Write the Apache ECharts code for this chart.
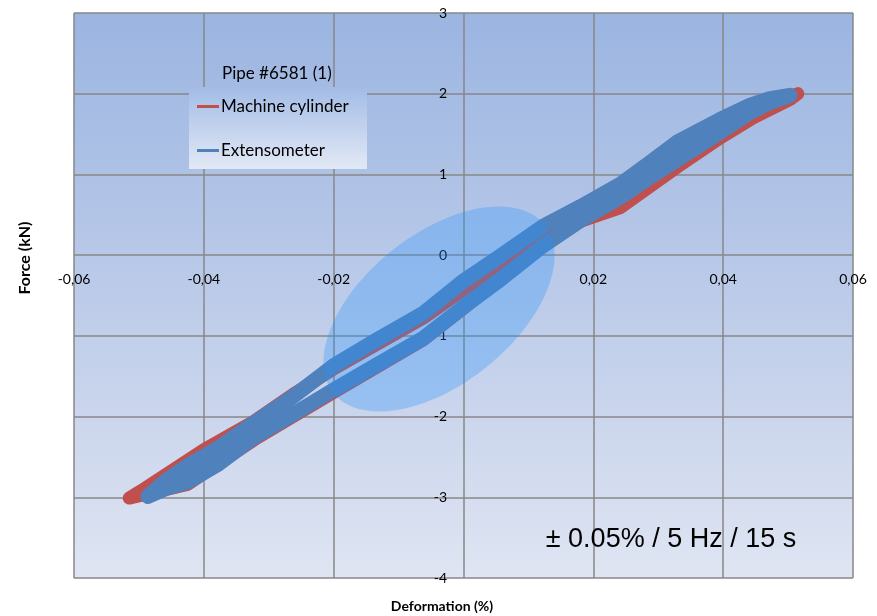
<!DOCTYPE html>
<html><head><meta charset="utf-8">
<script src="https://cdn.jsdelivr.net/npm/echarts@6/dist/echarts.min.js"></script>
<style>html,body{margin:0;padding:0;background:#fff}#c{width:877px;height:616px}</style>
</head><body><div id="c"></div>
<script>
// Axis ticks
const xTicks = [-0.06, -0.04, -0.02, 0, 0.02, 0.04, 0.06];
const yTicks = [-4, -3, -2, -1, 0, 1, 2, 3];

// Extensometer (blue) – loading branch, lower-left to upper-right
const extLoadDef = [-0.0486,-0.0458,-0.0425,-0.0378,-0.0323,-0.0262,-0.0200,-0.0138,-0.0062,0.0000,0.0057,0.0123,0.0180,0.0242,0.0288,0.0329,0.0395,0.0442,0.0472,0.0503];
const extLoadForce = [-2.99,-2.89,-2.81,-2.59,-2.26,-1.97,-1.67,-1.38,-1.03,-0.64,-0.30,0.12,0.43,0.72,0.97,1.18,1.52,1.77,1.89,1.98];
// Extensometer – unloading branch, upper-right back to lower-left
const extUnloadDef = [0.0503,0.0472,0.0442,0.0395,0.0329,0.0288,0.0242,0.0180,0.0123,0.0057,0.0000,-0.0062,-0.0138,-0.0200,-0.0262,-0.0323,-0.0378,-0.0425,-0.0458,-0.0486];
const extUnloadForce = [1.98,1.94,1.86,1.68,1.40,1.15,0.88,0.60,0.36,-0.01,-0.32,-0.72,-1.07,-1.37,-1.75,-2.08,-2.39,-2.61,-2.79,-2.99];

// Machine cylinder (red) – loading branch
const cylLoadDef = [-0.0515,-0.0425,-0.0323,-0.0200,-0.0062,0.0000,0.0123,0.0180,0.0242,0.0329,0.0395,0.0446,0.0503,0.0515];
const cylLoadForce = [-3.01,-2.84,-2.29,-1.70,-1.05,-0.66,0.12,0.42,0.59,1.09,1.45,1.70,1.93,2.00];
// Machine cylinder – unloading branch
const cylUnloadDef = [0.0515,0.0472,0.0395,0.0329,0.0242,0.0123,0.0000,-0.0062,-0.0200,-0.0262,-0.0323,-0.0400,-0.0497,-0.0515];
const cylUnloadForce = [2.00,1.87,1.60,1.30,0.78,0.26,-0.43,-0.78,-1.41,-1.72,-2.06,-2.41,-2.92,-3.01];

const seriesNames = ['Machine cylinder', 'Extensometer'];
const legendTitle = 'Pipe #6581 (1)';
const note = '\u00B1 0.05% / 5 Hz / 15 s';
const xTitle = 'Deformation (%)';
const yTitle = 'Force (kN)';

function loop(d1, f1, d2, f2) {
  const out = [];
  d1.forEach((d, i) => out.push([d, f1[i]]));
  d2.forEach((d, i) => out.push([d, f2[i]]));
  return out;
}

const chart = echarts.init(document.getElementById('c'), null, {renderer: 'canvas'});
const gridColor = '#878787';
const labelFont = 'Lato, "Open Sans", sans-serif';

chart.setOption({
  animation: false,
  backgroundColor: '#ffffff',
  title: {
    text: legendTitle, left: 217, top: 60,
    textStyle: {fontFamily: labelFont, fontSize: 17, fontWeight: 'normal', color: '#000'}
  },
  legend: {
    orient: 'vertical', left: 192, top: 93, itemGap: 27,
    itemWidth: 22, itemHeight: 3, icon: 'rect',
    textStyle: {fontFamily: labelFont, fontSize: 17, color: '#000', padding: [0,0,0,-3]},
    data: [
      {name: seriesNames[0], itemStyle: {color: '#C0504D'}},
      {name: seriesNames[1], itemStyle: {color: '#4F81BD'}}
    ]
  },
  grid: {
    left: 74, right: 24, top: 13, bottom: 38, show: true, borderWidth: 0,
    backgroundColor: {type: 'linear', x: 0, y: 0, x2: 0, y2: 1, colorStops: [
      {offset: 0, color: '#9bb5e1'}, {offset: 0.5, color: '#bccbe9'}, {offset: 1, color: '#dfe5f2'}
    ]}
  },
  xAxis: {
    type: 'value', min: xTicks[0], max: xTicks[xTicks.length - 1], interval: 0.02,
    position: 'bottom', offset: -323,
    axisLine: {show: false, onZero: false},
    axisTick: {show: false},
    axisLabel: {margin: 17, fontFamily: labelFont, fontSize: 14, color: '#000',
      formatter: v => Math.abs(v) < 1e-9 ? '0' : v.toFixed(2).replace('.', ',')},
    splitLine: {show: true, lineStyle: {color: gridColor, width: 1.5}}
  },
  yAxis: {
    type: 'value', min: yTicks[0], max: yTicks[yTicks.length - 1], interval: 1,
    position: 'left', offset: -389,
    axisLine: {show: false, onZero: false},
    axisTick: {show: false},
    axisLabel: {margin: 16, fontFamily: labelFont, fontSize: 14, color: '#000'},
    splitLine: {show: true, lineStyle: {color: gridColor, width: 1.5}}
  },
  series: [
    {
      name: seriesNames[0], type: 'line', symbol: 'none', z: 2,
      data: loop(cylLoadDef, cylLoadForce, cylUnloadDef, cylUnloadForce),
      lineStyle: {color: '#C0504D', width: 13, join: 'round', cap: 'round'},
      itemStyle: {color: '#C0504D'}
    },
    {
      name: seriesNames[1], type: 'line', symbol: 'none', z: 3,
      data: loop(extLoadDef, extLoadForce, extUnloadDef, extUnloadForce),
      lineStyle: {color: '#4F81BD', width: 15, join: 'round', cap: 'round'},
      itemStyle: {color: '#4F81BD'}
    }
  ],
  graphic: [
    {type: 'rect', z: 1, shape: {x: 189, y: 87, width: 178, height: 82},
     style: {fill: {type: 'linear', x: 0, y: 0, x2: 0, y2: 1, colorStops: [
       {offset: 0, color: '#a3bce6'}, {offset: 1, color: '#e2e9f5'}]}}},
    {type: 'ellipse', z: 10, x: 439, y: 309, rotation: 38.5 * Math.PI / 180,
     shape: {cx: 0, cy: 0, rx: 135, ry: 75},
     style: {fill: 'rgba(35,145,252,0.3)'}},
    {type: 'text', z: 20, x: 671, y: 540,
     style: {text: note, font: '27px "Liberation Sans", Arial, sans-serif', fill: '#000',
             textAlign: 'center', textVerticalAlign: 'middle', verticalAlign: 'middle'}},
    {type: 'text', z: 20, x: 442, y: 606,
     style: {text: xTitle, font: 'bold 14px Lato, sans-serif', fill: '#000',
             textAlign: 'center', textVerticalAlign: 'middle', verticalAlign: 'middle'}},
    {type: 'text', z: 20, x: 25, y: 258, rotation: Math.PI / 2,
     style: {text: yTitle, font: 'bold 16px Lato, sans-serif', fill: '#000',
             textAlign: 'center', textVerticalAlign: 'middle', verticalAlign: 'middle'}}
  ]
});
</script>
</body></html>
